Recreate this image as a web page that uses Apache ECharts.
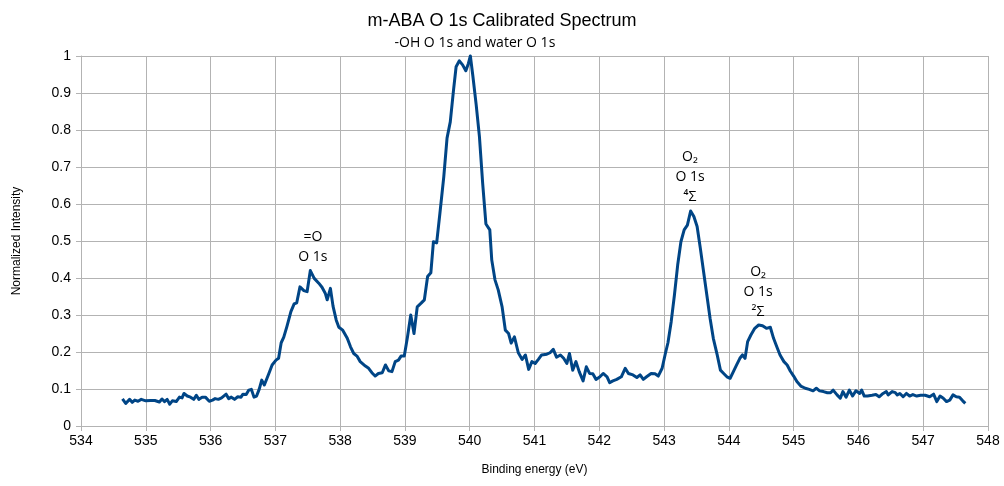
<!DOCTYPE html>
<html>
<head>
<meta charset="utf-8">
<script src="https://cdn.jsdelivr.net/npm/echarts@6/dist/echarts.min.js"></script>
<style>
  html, body { margin: 0; padding: 0; background: #fff; }
  #chart { width: 1004px; height: 486px; }
</style>
</head>
<body>
<div id="chart"></div>
<script>
// Binding energy (eV) of each sample
const energies = [
  534.64, 534.69, 534.75, 534.79, 534.83, 534.88, 534.93, 535.00, 535.07, 535.14,
  535.17, 535.21, 535.25, 535.29, 535.33, 535.37, 535.41, 535.47, 535.52, 535.56,
  535.59, 535.64, 535.69, 535.74, 535.78, 535.82, 535.87, 535.92, 535.98, 536.03,
  536.07, 536.12, 536.17, 536.20, 536.24, 536.28, 536.32, 536.37, 536.42, 536.47,
  536.50, 536.55, 536.59, 536.63, 536.67, 536.71, 536.75, 536.79, 536.83,
  536.90, 536.95, 537.01, 537.05, 537.09, 537.13, 537.18, 537.24, 537.29, 537.33,
  537.38, 537.44, 537.49, 537.54, 537.60, 537.67, 537.72, 537.77, 537.80, 537.85,
  537.89, 537.94, 537.98, 538.04, 538.11, 538.16, 538.21, 538.26, 538.31, 538.39,
  538.44, 538.49, 538.54, 538.59, 538.65, 538.70, 538.75, 538.80, 538.85, 538.90,
  538.94, 538.99, 539.04, 539.09, 539.14, 539.19, 539.25, 539.30, 539.35, 539.40,
  539.44, 539.49, 539.54, 539.60, 539.65, 539.70, 539.75, 539.79, 539.84, 539.89,
  539.94, 539.98, 540.01, 540.05, 540.10, 540.15, 540.20, 540.25, 540.31, 540.34,
  540.39, 540.44, 540.50, 540.55, 540.60, 540.64, 540.69, 540.75, 540.81, 540.86,
  540.91, 540.96, 541.01, 541.06, 541.11, 541.19, 541.24, 541.29, 541.34, 541.40,
  541.45, 541.50, 541.54, 541.59, 541.64, 541.69, 541.75, 541.80, 541.85, 541.90,
  541.95, 542.01, 542.06, 542.12, 542.16, 542.21, 542.27, 542.34, 542.40, 542.45,
  542.52, 542.58, 542.63, 542.68, 542.73, 542.80, 542.86, 542.91, 542.97, 543.02,
  543.06, 543.11, 543.16, 543.21, 543.26, 543.31, 543.36, 543.41, 543.46, 543.51,
  543.56, 543.61, 543.66, 543.71, 543.76, 543.82, 543.87, 543.92, 543.97, 544.02,
  544.07, 544.12, 544.17, 544.21, 544.25, 544.29, 544.34, 544.40, 544.46, 544.52,
  544.58, 544.64, 544.69, 544.74, 544.79, 544.85, 544.90, 544.95, 545.00, 545.05,
  545.11, 545.18, 545.24, 545.30, 545.35, 545.40, 545.46, 545.52, 545.57, 545.61,
  545.67, 545.72, 545.76, 545.81, 545.86, 545.91, 545.96, 546.02, 546.05, 546.09,
  546.14, 546.21, 546.27, 546.32, 546.38, 546.43, 546.46, 546.52, 546.57, 546.60,
  546.64, 546.69, 546.74, 546.79, 546.84, 546.90, 546.96, 547.03, 547.10, 547.16,
  547.21, 547.26, 547.31, 547.36, 547.41, 547.46, 547.51, 547.56, 547.61, 547.65
];

// Normalized O 1s intensity at each energy
const intensity = [
  0.073, 0.061, 0.072, 0.064, 0.070, 0.067, 0.072, 0.068, 0.069, 0.069,
  0.074, 0.065, 0.073, 0.066, 0.072, 0.059, 0.068, 0.066, 0.078, 0.076,
  0.088, 0.081, 0.078, 0.072, 0.083, 0.072, 0.078, 0.078, 0.067, 0.070,
  0.074, 0.072, 0.076, 0.072, 0.086, 0.074, 0.078, 0.072, 0.079, 0.078,
  0.086, 0.085, 0.097, 0.099, 0.078, 0.081, 0.099, 0.124, 0.111,
  0.142, 0.165, 0.178, 0.183, 0.225, 0.240, 0.270, 0.309, 0.330, 0.333,
  0.376, 0.366, 0.363, 0.420, 0.399, 0.386, 0.375, 0.359, 0.341, 0.372,
  0.324, 0.286, 0.267, 0.259, 0.237, 0.214, 0.196, 0.189, 0.174, 0.162,
  0.156, 0.144, 0.135, 0.142, 0.144, 0.165, 0.149, 0.147, 0.174, 0.178,
  0.189, 0.189, 0.241, 0.300, 0.250, 0.322, 0.332, 0.341, 0.404, 0.414,
  0.498, 0.495, 0.575, 0.674, 0.778, 0.822, 0.908, 0.971, 0.987, 0.976,
  0.960, 0.980, 1.000, 0.944, 0.868, 0.782, 0.656, 0.546, 0.530, 0.449,
  0.395, 0.368, 0.322, 0.259, 0.250, 0.224, 0.241, 0.198, 0.180, 0.192,
  0.153, 0.174, 0.169, 0.180, 0.192, 0.194, 0.198, 0.207, 0.186, 0.192,
  0.183, 0.169, 0.196, 0.151, 0.174, 0.147, 0.122, 0.160, 0.142, 0.141,
  0.126, 0.133, 0.142, 0.133, 0.117, 0.122, 0.126, 0.133, 0.156, 0.142,
  0.138, 0.131, 0.138, 0.126, 0.133, 0.142, 0.141, 0.135, 0.156, 0.196,
  0.225, 0.282, 0.354, 0.435, 0.498, 0.530, 0.543, 0.581, 0.566, 0.539,
  0.480, 0.417, 0.354, 0.291, 0.237, 0.192, 0.151, 0.142, 0.133, 0.129,
  0.147, 0.165, 0.183, 0.192, 0.183, 0.228, 0.246, 0.264, 0.273, 0.271,
  0.264, 0.267, 0.237, 0.214, 0.192, 0.174, 0.165, 0.148, 0.135, 0.120,
  0.108, 0.102, 0.099, 0.095, 0.102, 0.095, 0.093, 0.090, 0.090, 0.097,
  0.084, 0.075, 0.093, 0.078, 0.097, 0.081, 0.095, 0.088, 0.097, 0.081,
  0.081, 0.083, 0.085, 0.079, 0.088, 0.093, 0.084, 0.093, 0.090, 0.084,
  0.088, 0.079, 0.088, 0.081, 0.085, 0.081, 0.083, 0.083, 0.079, 0.086,
  0.066, 0.081, 0.075, 0.066, 0.070, 0.084, 0.079, 0.078, 0.068, 0.061
];

// Peak assignments: label text, anchor (energy, intensity) and a pixel nudge
const peakLabels = ['-OH O 1s and water O 1s', '=O\nO 1s', 'O\u2082\nO 1s\n\u2074\u03A3', 'O\u2082\nO 1s\n\u00B2\u03A3'];
const peakLabelAt = [[540.08, 1.0], [537.58, 0.485], [543.40, 0.673], [544.45, 0.362]];
const peakLabelNudge = [[0, -13], [0, 0], [0, 0], [0, 0]];

const chart = echarts.init(document.getElementById('chart'), null, { renderer: 'canvas' });

const tickFont = { fontFamily: 'Liberation Sans, Arial, sans-serif', fontSize: 14, color: '#000' };
const gridColor = '#b3b3b3';

chart.setOption({
  animation: false,
  backgroundColor: '#ffffff',
  title: {
    text: 'm-ABA O 1s Calibrated Spectrum',
    left: 'center',
    top: 7,
    textStyle: { fontFamily: 'Liberation Sans, Arial, sans-serif', fontSize: 18, fontWeight: 'normal', color: '#000' }
  },
  grid: { left: 81, right: 16, top: 56, bottom: 60, containLabel: false },
  xAxis: {
    type: 'value',
    min: 534, max: 548, interval: 1,
    name: 'Binding energy (eV)',
    nameLocation: 'middle',
    nameGap: 38,
    nameTextStyle: { fontFamily: 'Liberation Sans, Arial, sans-serif', fontSize: 12, color: '#000' },
    axisLine: { show: true, lineStyle: { color: gridColor, width: 1 } },
    axisTick: { show: true, length: 5, lineStyle: { color: gridColor } },
    axisLabel: Object.assign({ margin: 8 }, tickFont),
    splitLine: { show: true, lineStyle: { color: gridColor, width: 1 } }
  },
  yAxis: {
    type: 'value',
    min: 0, max: 1, interval: 0.1,
    name: 'Normalized Intensity',
    nameLocation: 'middle',
    nameRotate: 90,
    nameGap: 58,
    nameTextStyle: { fontFamily: 'Liberation Sans, Arial, sans-serif', fontSize: 12, color: '#000' },
    axisLine: { show: true, lineStyle: { color: gridColor, width: 1 } },
    axisTick: { show: true, length: 5, lineStyle: { color: gridColor } },
    axisLabel: Object.assign({ margin: 10 }, tickFont),
    splitLine: { show: true, lineStyle: { color: gridColor, width: 1 } }
  },
  series: [{
    type: 'line',
    data: energies.map((e, i) => [e, intensity[i]]),
    showSymbol: false,
    symbol: 'none',
    clip: false,
    lineStyle: { color: '#004586', width: 3, join: 'round' },
    itemStyle: { color: '#004586' },
    markPoint: {
      symbol: 'circle',
      symbolSize: 0,
      silent: true,
      data: peakLabels.map((t, i) => ({
        coord: peakLabelAt[i],
        label: {
          show: true,
          position: 'inside',
          offset: peakLabelNudge[i],
          formatter: t,
          fontFamily: 'Open Sans, DejaVu Sans, sans-serif',
          fontSize: 14,
          lineHeight: 20,
          color: '#000'
        }
      }))
    }
  }]
});
</script>
</body>
</html>
